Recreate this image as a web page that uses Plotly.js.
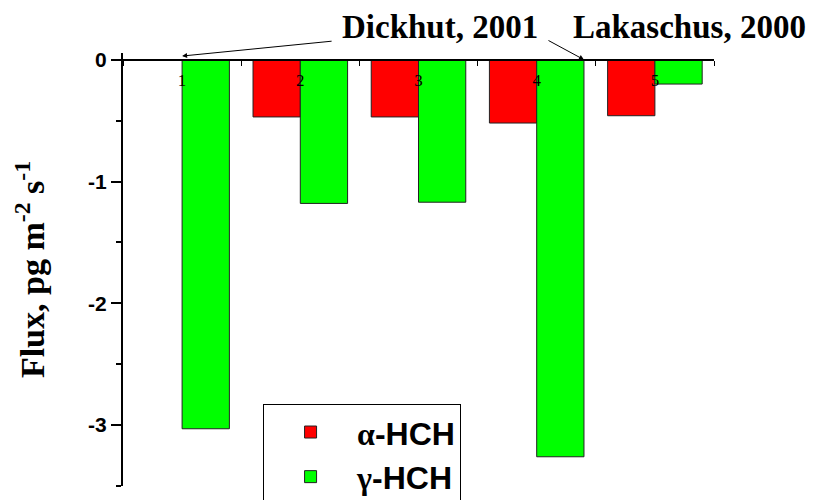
<!DOCTYPE html>
<html>
<head>
<meta charset="utf-8">
<script src="https://cdn.plot.ly/plotly-3.0.1.min.js"></script>
<style>body{margin:0;background:#fff}</style>
</head>
<body>
<div id="chart" style="width:816px;height:500px"></div>
<script>
// categories and flux values
const sites = ['1', '2', '3', '4', '5']
const alphaHCH = [null, -0.47, -0.47, -0.52, -0.46]
const gammaHCH = [-3.03, -1.18, -1.17, -3.26, -0.20]
const yTicks = [-3, -2, -1, 0]
const yTop = 0.055
const yBottom = -3.5

const alpha = {
  x: sites,
  y: alphaHCH,
  type: 'bar',
  name: '<span style="font-family:Liberation Serif">α</span>-HCH',
  marker: { color: '#ff0000', line: { color: '#222', width: 1 } }
}

const gamma = {
  x: sites,
  y: gammaHCH,
  type: 'bar',
  name: '<span style="font-family:Liberation Serif">γ</span>-HCH',
  marker: { color: '#00ff00', line: { color: '#222', width: 1 } }
}

const serif = 'Liberation Serif, Times New Roman, serif'
const sans = 'Liberation Sans, Arial, sans-serif'

const layout = {
  width: 816,
  height: 500,
  margin: { l: 123, r: 102, t: 53, b: 14, autoexpand: false },
  paper_bgcolor: '#fff',
  plot_bgcolor: '#fff',
  barmode: 'group',
  bargap: 0.2,
  bargroupgap: 0,
  showlegend: true,
  legend: {
    x: 0.237, y: 0.19, xanchor: 'left', yanchor: 'top',
    bordercolor: '#000', borderwidth: 1, bgcolor: '#fff',
    font: { family: sans, size: 32, color: '#000', weight: 'bold' },
    traceorder: 'normal', itemwidth: 83
  },
  xaxis: {
    type: 'category',
    range: [-0.5, 4.5],
    side: 'bottom',
    anchor: 'free',
    position: -yBottom / (yTop - yBottom),
    showline: true, linecolor: '#000', linewidth: 2,
    ticks: 'outside', tickson: 'boundaries', ticklen: 5, tickcolor: '#000',
    ticklabelstandoff: 5,
    tickfont: { family: serif, size: 17, color: '#000' },
    showgrid: false, zeroline: false
  },
  yaxis: {
    range: [yBottom, yTop],
    domain: [0, 1],
    tickvals: yTicks,
    ticktext: yTicks.map(String),
    ticks: 'outside', ticklen: 10, tickwidth: 2, tickcolor: '#000',
    minor: { ticks: 'outside', tick0: -0.5, dtick: 1, ticklen: 5, tickwidth: 2, tickcolor: '#000' },
    showline: true, linecolor: '#000', linewidth: 2,
    showgrid: false, zeroline: false,
    tickfont: { family: sans, size: 21, color: '#000', weight: 'bold' },
    title: {
      text: '<b>Flux, pg m<sup>-2</sup> s<sup>-1</sup></b>',
      font: { family: serif, size: 34, color: '#000' },
      standoff: 33
    }
  },
  annotations: [
    {
      xref: 'paper', yref: 'paper', x: 0.536, y: 1.06,
      xanchor: 'center', yanchor: 'middle',
      text: '<b>Dickhut, 2001</b>', showarrow: false,
      font: { family: serif, size: 33, color: '#000' }
    },
    {
      xref: 'paper', yref: 'paper', x: 0.959, y: 1.06,
      xanchor: 'center', yanchor: 'middle',
      text: '<b>Lakaschus, 2000</b>', showarrow: false,
      font: { family: serif, size: 33, color: '#000' }
    },
    {
      x: 0, y: 0.03, text: '', showarrow: true,
      ax: 151, ay: -15, arrowhead: 2, arrowsize: 1, arrowwidth: 1, arrowcolor: '#000'
    },
    {
      x: 3.4, y: 0, text: '', showarrow: true,
      ax: -37, ay: -20, arrowhead: 2, arrowsize: 1, arrowwidth: 1, arrowcolor: '#000'
    }
  ]
}

Plotly.newPlot('chart', [alpha, gamma], layout, { displayModeBar: false })
</script>
</body>
</html>
